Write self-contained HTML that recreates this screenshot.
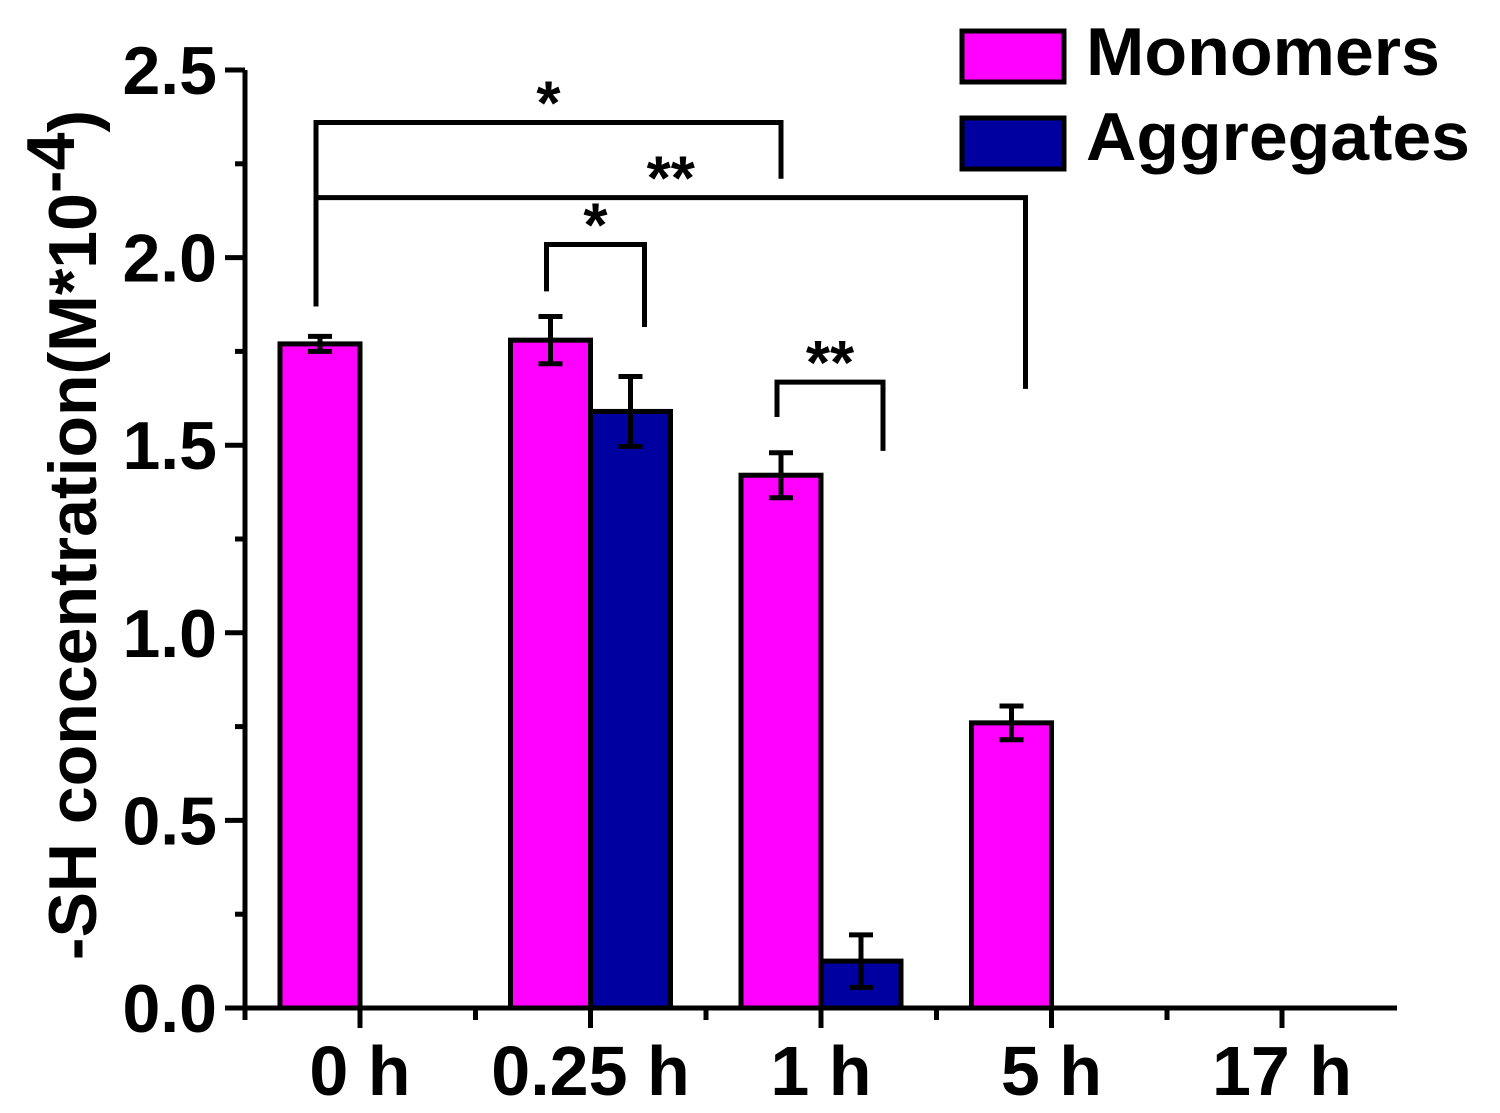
<!DOCTYPE html>
<html><head><meta charset="utf-8"><style>
html,body{margin:0;padding:0;background:#fff;}
svg{display:block;font-family:"Liberation Sans",Arial,sans-serif;font-weight:bold;}
</style></head><body>
<svg id="chart" width="1500" height="1113" viewBox="0 0 1500 1113">
<g id="axes"></g><g id="bars"></g><g id="errs"></g><g id="sig"></g>
<g>
<rect x="962" y="31" width="102" height="51" fill="#ff00ff" stroke="#000" stroke-width="5"/>
<text x="1086" y="75" font-size="68" textLength="354" lengthAdjust="spacingAndGlyphs">Monomers</text>
<rect x="962" y="118" width="102" height="51" fill="#0000a0" stroke="#000" stroke-width="5"/>
<text x="1086" y="160" font-size="68" textLength="384" lengthAdjust="spacingAndGlyphs">Aggregates</text>
</g>
<text transform="translate(96,535) rotate(-90)" text-anchor="middle" font-size="68">-SH concentration(M*10<tspan dy="-22">-4</tspan><tspan dy="22">)</tspan></text>
</svg>
<script>
const categories = ["0 h","0.25 h","1 h","5 h","17 h"];
const monomers = [1.77,1.78,1.42,0.76,0];
const monomerErr = [0.02,0.063,0.06,0.045,0];
const aggregates = [0,1.59,0.125,0,0];
const aggregateErr = [0,0.093,0.07,0,0];
const yTicks = [0,0.5,1.0,1.5,2.0,2.5];
const yTickLabels = ["0.0","0.5","1.0","1.5","2.0","2.5"];
const sigFrom = [0,0,1,2];
const sigFromSeries = [0,0,0,0];
const sigTo = [2,3,1,2];
const sigToSeries = [0,0,1,1];
const sigLevel = [2.36,2.16,2.035,1.668];
const sigFromEnd = [1.87,1.87,1.91,1.575];
const sigToEnd = [2.21,1.65,1.815,1.485];
const sigLabels = ["*","**","*","**"];

const NS="http://www.w3.org/2000/svg";
const X0=245,X1=1397,Y0=1008,YTOP=70;
const y=v=>Y0-(v/2.5)*(Y0-YTOP);
const xc=i=>360+i*230.5;
const barW=80;
const sigToShift=[0,14,14,22];
function mk(tag,attrs,parent,text){const e=document.createElementNS(NS,tag);for(const k in attrs)e.setAttribute(k,attrs[k]);if(text!==undefined)e.textContent=text;document.getElementById(parent).appendChild(e);return e;}
let e=mk('line',{x1:X0,y1:Y0,x2:X1,y2:Y0,stroke:'#000','stroke-width':5},'axes');


e=mk('line',{x1:X0,y1:Y0+2,x2:X0,y2:YTOP,stroke:'#000','stroke-width':5},'axes');


yTicks.forEach((t,i)=>{
  let tk=mk('line',{x1:X0-20,y1:y(t),x2:X0,y2:y(t),stroke:'#000','stroke-width':5},'axes');
  
  
  if(i<yTicks.length-1){let m=mk('line',{x1:X0-10,y1:y(t+0.25),x2:X0,y2:y(t+0.25),stroke:'#000','stroke-width':5},'axes');
  
  }
  let l=mk('text',{x:X0-28,y:y(t)+24,'text-anchor':'end','font-size':68},'axes',yTickLabels[i]);
  
  
});
categories.forEach((c,i)=>{
  let tk=mk('line',{x1:xc(i),y1:Y0,x2:xc(i),y2:Y0+20,stroke:'#000','stroke-width':5},'axes');
  
  
  let m=mk('line',{x1:xc(i)-115,y1:Y0,x2:xc(i)-115,y2:Y0+12,stroke:'#000','stroke-width':5},'axes');
  
  
  let l=mk('text',{x:xc(i),y:1095,'text-anchor':'middle','font-size':70},'axes',c);
  
  
});
function errbar(xm,v,er){
  if(er<=0)return;
  const g=[[xm,y(v+er),xm,y(v-er)],[xm-12,y(v+er),xm+12,y(v+er)],[xm-12,y(v-er),xm+12,y(v-er)]];
  g.forEach(a=>{let l=mk('line',{x1:a[0],y1:a[1],x2:a[2],y2:a[3],stroke:'#000','stroke-width':5},'errs');
  
  });
}
categories.forEach((c,i)=>{
  if(monomers[i]>0){let r=mk('rect',{x:xc(i)-barW,y:y(monomers[i]),width:barW,height:Y0-y(monomers[i]),fill:'#ff00ff',stroke:'#000','stroke-width':5},'bars');
  
  
  errbar(xc(i)-barW/2,monomers[i],monomerErr[i]);}
  if(aggregates[i]>0){let r=mk('rect',{x:xc(i),y:y(aggregates[i]),width:barW,height:Y0-y(aggregates[i]),fill:'#0000a0',stroke:'#000','stroke-width':5},'bars');
  
  
  errbar(xc(i)+barW/2,aggregates[i],aggregateErr[i]);}
});
sigLabels.forEach((lab,k)=>{
  const xa=xc(sigFrom[k])+(sigFromSeries[k]===0?-barW/2:barW/2)-4;
  const xb=xc(sigTo[k])+(sigToSeries[k]===0?-barW/2:barW/2)+sigToShift[k];
  const yl=y(sigLevel[k]);
  const ya=y(sigFromEnd[k]);
  const yb=y(sigToEnd[k]);
  let p=mk('polyline',{points:`${xa},${ya} ${xa},${yl} ${xb},${yl} ${xb},${yb}`,fill:'none',stroke:'#000','stroke-width':5},'sig');
  
  
  let t=mk('text',{x:(xa+xb)/2,y:yl+2,'text-anchor':'middle','font-size':62},'sig',lab);
  
  
});
</script>
</body></html>
